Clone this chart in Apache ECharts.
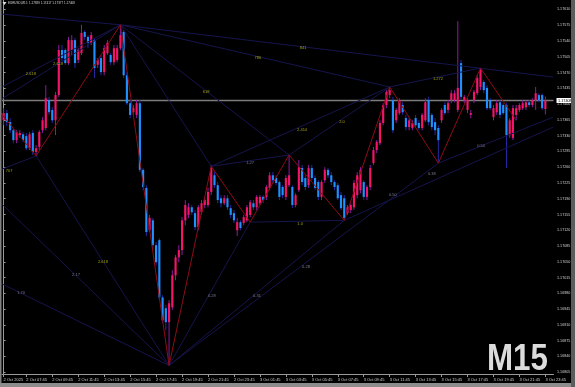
<!DOCTYPE html>
<html><head><meta charset="utf-8">
<script src="https://cdn.jsdelivr.net/npm/echarts@6/dist/echarts.min.js"></script>
<style>html,body{margin:0;padding:0;background:#000;overflow:hidden}#c{width:575px;height:387px}</style>
</head><body><div id="c"></div>
<script>
// ---------- data ----------
const symbolTitle = 'EURUSD,M15  1.17389 1.17417 1.17377 1.17408';
const bidPrice = 1.17408;

// M15 bar times, 2 Oct 06:00 onward (last two slots are empty space on the right)
const categories = [];
for (let k = 0; k < 170; k++) {
  const t = new Date(Date.UTC(2025, 9, 2, 6, 0) + k * 15 * 60000);
  categories.push(t.getUTCDate() + ' Oct ' + String(t.getUTCHours()).padStart(2, '0') + ':' + String(t.getUTCMinutes()).padStart(2, '0'));
}
const timeTickLabels = ['2 Oct 2025','2 Oct 07:45','2 Oct 09:45','2 Oct 11:45','2 Oct 13:45','2 Oct 15:45','2 Oct 17:45','2 Oct 19:45','2 Oct 21:45','2 Oct 23:45','3 Oct 01:45','3 Oct 03:45','3 Oct 05:45','3 Oct 07:45','3 Oct 09:45','3 Oct 11:45','3 Oct 13:45','3 Oct 15:45','3 Oct 17:45','3 Oct 19:45','3 Oct 21:45','3 Oct 23:45'];
const priceTicks = [1.16805,1.16840,1.16875,1.16910,1.16945,1.16980,1.17015,1.17050,1.17085,1.17120,1.17155,1.17190,1.17225,1.17260,1.17295,1.17330,1.17365,1.17400,1.17435,1.17470,1.17505,1.17540,1.17575,1.17610];

// [open, close, low, high]
const candles = [
[1.17364,1.17380,1.17353,1.17391],[1.17380,1.17360,1.17351,1.17387],[1.17360,1.17342,1.17336,1.17369],[1.17342,1.17320,1.17313,1.17347],
[1.17320,1.17338,1.17313,1.17342],[1.17331,1.17336,1.17325,1.17342],[1.17333,1.17320,1.17316,1.17338],[1.17329,1.17302,1.17298,1.17336],
[1.17302,1.17333,1.17298,1.17338],[1.17336,1.17294,1.17287,1.17342],[1.17294,1.17302,1.17285,1.17309],[1.17305,1.17338,1.17298,1.17342],
[1.17342,1.17364,1.17336,1.17371],[1.17347,1.17413,1.17342,1.17442],[1.17409,1.17382,1.17376,1.17416],[1.17387,1.17364,1.17358,1.17393],
[1.17364,1.17420,1.17331,1.17427],[1.17420,1.17520,1.17416,1.17531],[1.17520,1.17502,1.17493,1.17531],[1.17520,1.17491,1.17487,1.17524],
[1.17491,1.17542,1.17487,1.17549],[1.17520,1.17542,1.17509,1.17553],[1.17542,1.17491,1.17480,1.17547],[1.17498,1.17520,1.17491,1.17524],
[1.17513,1.17558,1.17509,1.17576],[1.17560,1.17549,1.17542,1.17564],[1.17549,1.17536,1.17524,1.17553],[1.17536,1.17553,1.17531,1.17560],
[1.17542,1.17480,1.17458,1.17547],[1.17487,1.17498,1.17480,1.17502],[1.17502,1.17471,1.17464,1.17509],[1.17471,1.17524,1.17464,1.17531],
[1.17513,1.17536,1.17509,1.17542],[1.17509,1.17493,1.17487,1.17513],[1.17493,1.17524,1.17487,1.17531],[1.17498,1.17524,1.17493,1.17531],
[1.17524,1.17553,1.17520,1.17576],[1.17560,1.17464,1.17458,1.17564],[1.17464,1.17402,1.17398,1.17471],[1.17402,1.17376,1.17369,1.17409],
[1.17382,1.17391,1.17376,1.17398],[1.17376,1.17402,1.17369,1.17409],[1.17402,1.17254,1.17249,1.17409],[1.17254,1.17216,1.17209,1.17258],
[1.17214,1.17116,1.17107,1.17220],[1.17120,1.17147,1.17116,1.17154],[1.17142,1.17087,1.17080,1.17147],[1.17087,1.17049,1.17042,1.17094],
[1.17098,1.16971,1.16965,1.17102],[1.16971,1.16920,1.16914,1.16976],[1.16947,1.16916,1.16898,1.16954],[1.16916,1.16958,1.16820,1.16965],
[1.16949,1.17020,1.16943,1.17031],[1.17020,1.17060,1.17009,1.17065],[1.17060,1.17076,1.17049,1.17087],[1.17076,1.17142,1.17065,1.17149],
[1.17142,1.17176,1.17131,1.17187],[1.17154,1.17171,1.17147,1.17180],[1.17171,1.17160,1.17154,1.17176],[1.17158,1.17127,1.17120,1.17165],
[1.17127,1.17171,1.17120,1.17176],[1.17160,1.17180,1.17154,1.17187],[1.17176,1.17187,1.17169,1.17194],[1.17176,1.17205,1.17171,1.17214],
[1.17205,1.17258,1.17198,1.17265],[1.17242,1.17220,1.17214,1.17249],[1.17220,1.17187,1.17180,1.17227],[1.17191,1.17180,1.17171,1.17198],
[1.17180,1.17191,1.17176,1.17198],[1.17191,1.17171,1.17165,1.17198],[1.17169,1.17154,1.17147,1.17176],[1.17158,1.17142,1.17136,1.17165],
[1.17120,1.17138,1.17107,1.17147],[1.17138,1.17125,1.17120,1.17142],[1.17136,1.17149,1.17131,1.17154],[1.17142,1.17171,1.17138,1.17176],
[1.17154,1.17182,1.17149,1.17187],[1.17180,1.17171,1.17165,1.17187],[1.17171,1.17194,1.17165,1.17198],[1.17180,1.17194,1.17176,1.17198],
[1.17194,1.17187,1.17180,1.17198],[1.17194,1.17216,1.17187,1.17220],[1.17214,1.17242,1.17209,1.17249],[1.17242,1.17231,1.17225,1.17249],
[1.17236,1.17225,1.17220,1.17242],[1.17227,1.17194,1.17187,1.17231],[1.17216,1.17198,1.17191,1.17220],[1.17194,1.17236,1.17187,1.17242],
[1.17220,1.17242,1.17216,1.17287],[1.17216,1.17176,1.17169,1.17220],[1.17176,1.17198,1.17171,1.17202],[1.17209,1.17260,1.17205,1.17276],
[1.17258,1.17227,1.17220,1.17265],[1.17236,1.17216,1.17209,1.17242],[1.17220,1.17258,1.17214,1.17265],[1.17258,1.17236,1.17231,1.17265],
[1.17236,1.17214,1.17209,1.17242],[1.17227,1.17194,1.17187,1.17231],[1.17194,1.17227,1.17187,1.17231],[1.17231,1.17254,1.17225,1.17260],
[1.17254,1.17242,1.17236,1.17258],[1.17242,1.17227,1.17220,1.17249],[1.17227,1.17216,1.17209,1.17231],[1.17220,1.17191,1.17187,1.17225],
[1.17198,1.17169,1.17165,1.17205],[1.17191,1.17147,1.17142,1.17198],[1.17158,1.17171,1.17154,1.17176],[1.17165,1.17176,1.17158,1.17180],
[1.17171,1.17225,1.17165,1.17231],[1.17198,1.17242,1.17191,1.17249],[1.17209,1.17254,1.17202,1.17260],[1.17227,1.17194,1.17187,1.17231],
[1.17194,1.17216,1.17187,1.17220],[1.17216,1.17258,1.17209,1.17265],[1.17269,1.17298,1.17265,1.17305],[1.17298,1.17316,1.17291,1.17320],
[1.17313,1.17358,1.17309,1.17364],[1.17358,1.17398,1.17353,1.17402],[1.17398,1.17427,1.17391,1.17431],[1.17420,1.17431,1.17413,1.17438],
[1.17409,1.17342,1.17336,1.17416],[1.17364,1.17387,1.17358,1.17391],[1.17380,1.17409,1.17376,1.17413],[1.17398,1.17382,1.17376,1.17404],
[1.17369,1.17349,1.17342,1.17376],[1.17349,1.17364,1.17342,1.17369],[1.17347,1.17358,1.17342,1.17364],[1.17369,1.17353,1.17349,1.17376],
[1.17358,1.17347,1.17342,1.17364],[1.17347,1.17376,1.17342,1.17380],[1.17364,1.17404,1.17360,1.17413],[1.17409,1.17360,1.17353,1.17416],
[1.17376,1.17349,1.17342,1.17380],[1.17360,1.17342,1.17331,1.17369],[1.17347,1.17320,1.17269,1.17353],[1.17364,1.17387,1.17358,1.17391],
[1.17398,1.17380,1.17376,1.17404],[1.17387,1.17402,1.17380,1.17409],[1.17409,1.17424,1.17402,1.17431],[1.17409,1.17424,1.17404,1.17431],
[1.17387,1.17436,1.17382,1.17584],[1.17491,1.17416,1.17409,1.17498],[1.17409,1.17416,1.17402,1.17420],[1.17387,1.17409,1.17380,1.17413],
[1.17376,1.17380,1.17369,1.17387],[1.17409,1.17427,1.17402,1.17431],[1.17424,1.17458,1.17420,1.17464],[1.17438,1.17476,1.17431,1.17480],
[1.17449,1.17431,1.17424,1.17453],[1.17436,1.17391,1.17387,1.17442],[1.17409,1.17391,1.17387,1.17413],[1.17371,1.17391,1.17364,1.17398],
[1.17382,1.17402,1.17376,1.17409],[1.17404,1.17376,1.17369,1.17409],[1.17398,1.17380,1.17376,1.17402],[1.17398,1.17331,1.17258,1.17402],
[1.17331,1.17364,1.17325,1.17369],[1.17325,1.17391,1.17320,1.17398],[1.17376,1.17391,1.17364,1.17398],[1.17387,1.17398,1.17382,1.17402],
[1.17391,1.17402,1.17387,1.17409],[1.17393,1.17404,1.17387,1.17409],[1.17404,1.17398,1.17393,1.17409],[1.17398,1.17409,1.17393,1.17413],
[1.17409,1.17424,1.17387,1.17438],[1.17420,1.17409,1.17404,1.17424],[1.17420,1.17391,1.17387,1.17424],[1.17389,1.17408,1.17377,1.17417]
];

// Zigzag swing points [bar, price]
const zigzag = [[-1.1,1.17382],[10,1.17285],[36,1.17576],[51,1.16820],[64,1.17262],[76,1.17138],[88,1.17287],[105,1.17142],[119,1.17438],[134,1.17269],[147,1.17480],[158,1.17364]];

// Harmonic / fibo drawing lines [[bar, price],[bar, price]]
const fiboLines = [
 [[-1.1,1.17600],[36,1.17576]], [[-1.1,1.17436],[36,1.17576]], [[-1.1,1.17409],[36,1.17576]],
 [[36,1.17576],[169.4,1.17460]], [[36,1.17576],[119,1.17438]], [[119,1.17438],[147,1.17480]],
 [[36,1.17576],[88,1.17287]], [[36,1.17576],[64,1.17262]],
 [[10,1.17285],[51,1.16820]], [[-1.1,1.17254],[10,1.17285]], [[-1.1,1.17182],[51,1.16820]], [[-1.1,1.17003],[51,1.16820]],
 [[51,1.16820],[76,1.17138]], [[51,1.16820],[105,1.17142]], [[51,1.16820],[134,1.17269]],
 [[64,1.17262],[88,1.17287]], [[64,1.17262],[119,1.17438]], [[88,1.17287],[119,1.17438]],
 [[76,1.17138],[105,1.17142]], [[105,1.17142],[169.4,1.17349]], [[134,1.17269],[169.4,1.17371]]
];

// Fibo ratio labels [text, bar, price, kind]  kind: 1 = yellow, 0 = grey
const fiboLabels = [
 ['2.618',8.4,1.17467,1],['2.618',16.8,1.17489,1],['707',1.7,1.17251,1],['2.618',30.6,1.17049,1],
 ['2.17',22.3,1.17020,0],['1.70',5.4,1.16980,0],['618',62.4,1.17427,1],['786',78.4,1.17502,1],['841',92.3,1.17524,1],
 ['0.28',64.2,1.16974,0],['0.31',78.1,1.16974,0],['0.28',93.2,1.17038,0],['1.27',76.0,1.17269,0],
 ['2.414',92.0,1.17342,1],['2.0',104.3,1.17360,1],['1.0',91.4,1.17134,1],
 ['0.50',120.0,1.17198,0],['0.38',132.0,1.17245,0],['0.50',147.2,1.17307,0],['1.272',133.9,1.17456,1]
];

// ---------- chart ----------
const FONT = 'Liberation Sans';
const chart = echarts.init(document.getElementById('c'), null, {renderer: 'canvas', width: 575, height: 387});
const showTick = (idx, val) => idx === 0 || timeTickLabels.indexOf(val) >= 0;

const series = [];
series.push({
  type: 'line', xAxisIndex: 1, data: [[-0.5, bidPrice], [169.5, bidPrice]],
  symbol: 'none', silent: true, z: 1,
  lineStyle: {color: '#7c7c7c', width: 1.5},
  endLabel: {show: true, formatter: bidPrice.toFixed(5), backgroundColor: '#ffffff', color: '#000', fontSize: 3.8,
             fontFamily: FONT, padding: [0.6, 1.5, 0.4, 1.5], distance: 3}
});
series.push({
  type: 'custom', xAxisIndex: 0, z: 3,
  data: candles.map((d, i) => [i, d[0], d[1], d[2], d[3]]),
  encode: {x: 0, y: [1, 2, 3, 4]},
  renderItem: function (params, api) {
    const i = api.value(0), o = api.value(1), c = api.value(2), l = api.value(3), h = api.value(4);
    const pO = api.coord([i, o]), pC = api.coord([i, c]), pL = api.coord([i, l]), pH = api.coord([i, h]);
    const w = api.size([1, 0])[0] * 0.66;
    const up = c >= o;
    const x = pO[0];
    const top = Math.min(pO[1], pC[1]);
    const hgt = Math.max(1, Math.abs(pO[1] - pC[1]));
    return {type: 'group', children: [
      {type: 'line', shape: {x1: x, y1: pH[1], x2: x, y2: pL[1]}, style: {stroke: up ? '#8a1c9e' : '#2828a8', lineWidth: 1}},
      {type: 'rect', shape: {x: x - w / 2, y: top, width: w, height: hgt}, style: {fill: up ? '#f5146a' : '#1e90ff'}}
    ]};
  }
});
fiboLines.forEach(seg => series.push({
  type: 'line', xAxisIndex: 1, data: seg, symbol: 'none', silent: true, z: 4, clip: true,
  lineStyle: {color: '#15154e', width: 1}
}));
series.push({
  type: 'line', xAxisIndex: 1, data: zigzag, symbol: 'none', silent: true, z: 5, clip: true,
  lineStyle: {color: '#8e0c16', width: 1}
});
series.push({
  type: 'scatter', xAxisIndex: 1, symbolSize: 0, silent: true, z: 6,
  data: fiboLabels.map(l => ({name: l[0], value: [l[1], l[2]],
    label: {color: l[3] ? '#c4c414' : '#9a9ab4'}})),
  label: {show: true, position: 'inside', formatter: p => p.name, fontSize: 4, fontFamily: FONT}
});

chart.setOption({
  backgroundColor: '#000000',
  animation: false,
  grid: {left: 2, right: 21.5, top: 0, bottom: 13},
  xAxis: [{
    type: 'category', data: categories, boundaryGap: true,
    axisLine: {show: true, lineStyle: {color: '#9a9a9a', width: 1}},
    axisTick: {show: true, interval: showTick, alignWithLabel: true, length: 3, lineStyle: {color: '#9a9a9a'}},
    axisLabel: {show: true, interval: showTick, formatter: (v, i) => i === 0 ? timeTickLabels[0] : v,
                align: 'left', margin: 3.5, fontSize: 4, color: '#cfcfcf', fontFamily: FONT},
    splitLine: {show: false}
  }, {
    type: 'value', min: -0.5, max: 169.5, show: false
  }],
  yAxis: {
    type: 'value', position: 'right', min: 1.16801, max: 1.17631,
    axisLine: {show: true, lineStyle: {color: '#9a9a9a', width: 1}},
    axisTick: {show: true, customValues: priceTicks, length: 2, lineStyle: {color: '#9a9a9a'}},
    axisLabel: {show: true, customValues: priceTicks, formatter: v => v.toFixed(5), margin: 3.5,
                fontSize: 3.7, color: '#cfcfcf', fontFamily: FONT},
    splitLine: {show: false}
  },
  graphic: [
    {type: 'rect', left: 0, top: 0, shape: {width: 1.5, height: 387}, style: {fill: '#808080'}, z: 100},
    {type: 'rect', left: 0, top: 383, shape: {width: 575, height: 4}, style: {fill: '#8c8c8c'}, z: 100},
    {type: 'rect', left: 571, top: 0, shape: {width: 4, height: 387}, style: {fill: '#5c5c5c'}, z: 100},
    {type: 'polygon', shape: {points: [[2.5, 2], [6.5, 2], [4.5, 5]]}, style: {fill: '#e0e0e0'}, z: 100},
    {type: 'text', x: 8, y: 3.6, style: {text: symbolTitle, fontSize: 3, fontFamily: FONT, fill: '#d8d8d8', verticalAlign: 'middle'}, z: 100},
    {type: 'text', x: 487, y: 360, scaleX: 0.87, style: {text: 'M15', fontSize: 36, fontWeight: 'bold', fontFamily: FONT, fill: '#dcdcdc', verticalAlign: 'middle', align: 'left'}, z: 100}
  ],
  series: series
});
</script>
</body></html>
